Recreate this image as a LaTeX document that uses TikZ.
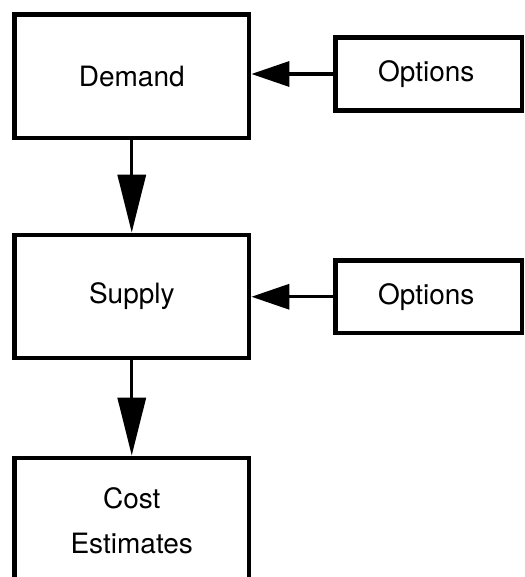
\documentclass[tikz,border=0pt]{standalone}
\usepackage{fontspec}
\setmainfont{TeX Gyre Heros}
\usetikzlibrary{arrows.meta}
\begin{document}
\begin{tikzpicture}[x=1pt,y=-1pt,
  box/.style={draw=black,line width=4.8pt,rectangle,inner sep=0pt,align=center,
    font=\fontsize{28}{45}\selectfont},
  harrow/.style={line width=3.4pt,-{Triangle[length=38pt,width=25pt]}},
  varrow/.style={line width=3.4pt,-{Triangle[length=58pt,width=28pt]}}]
\useasboundingbox (0,0) rectangle (524,577);
\clip (0,0) rectangle (524,577);
\fill[white] (0,0) rectangle (524,577);
\node[box,minimum width=234.5pt,minimum height=123.5pt] (demand) at (131.75,76.25) {Demand};
\node[box,minimum width=186.5pt,minimum height=73pt] (opt1) at (428.75,74) {\hspace*{-5pt}Options};
\node[box,minimum width=234.5pt,minimum height=123pt] (supply) at (131.75,296.5) {Supply};
\node[box,minimum width=186.5pt,minimum height=72.5pt] (opt2) at (428.75,296.75) {\hspace*{-5pt}Options};
\node[box,minimum width=234.5pt,minimum height=125pt] (cost) at (131.75,520.5) {Cost\\Estimates};
\draw[harrow] (opt1.west) -- (demand.east |- opt1.west);
\draw[harrow] (opt2.west) -- (supply.east |- opt2.west);
\draw[varrow] (demand.south) -- (supply.north);
\draw[varrow] (supply.south) -- (cost.north);
\end{tikzpicture}
\end{document}
